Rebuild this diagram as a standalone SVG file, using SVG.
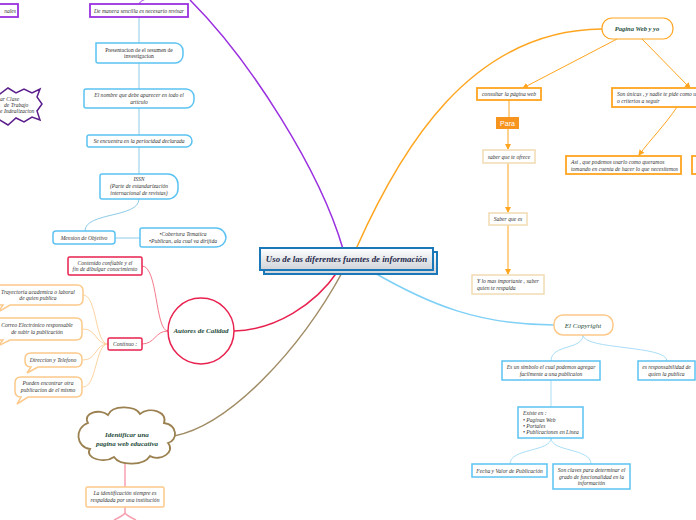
<svg xmlns="http://www.w3.org/2000/svg" width="696" height="520" viewBox="0 0 696 520">
<defs>
<linearGradient id="cg" x1="0" y1="0" x2="0" y2="1"><stop offset="0" stop-color="#ffffff"/><stop offset="1" stop-color="#cfd3d8"/></linearGradient>
<marker id="oa" markerWidth="6" markerHeight="6" refX="5" refY="3" orient="auto" markerUnits="userSpaceOnUse"><path d="M0,0 L6,3 L0,6 Z" fill="#ffa51f"/></marker>
<style>
text{font-family:"Liberation Serif","Times New Roman",serif;font-style:italic;fill:#333;font-size:5.6px}
.c{text-anchor:middle}
.t{font-weight:bold;fill:#1e4d3c;font-size:7px}
.bl{fill:#fff;stroke:#5bc3f2;stroke-width:1.5}
.pu{fill:#fff;stroke:#9b30e0;stroke-width:1.8}
.rd{fill:#fff;stroke:#e8214f;stroke-width:1.5}
.ob{fill:#fff;stroke:#fcc98a;stroke-width:1.5}
.or{fill:#fff;stroke:#ffa51f;stroke-width:1.8}
.tn{fill:#fff;stroke:#f1dcb3;stroke-width:1.5}
.ln{fill:none}
</style>
</defs>
<rect width="696" height="520" fill="#fff"/>
<g id="connectors" class="ln">
<path d="M343,249 C320,170 250,60 190,0" stroke="#9b30e0" stroke-width="1.5" fill="none"/>
<path d="M139,4 C140,1 144,0 148,-2" stroke="#9b30e0" stroke-width="1" fill="none"/>
<path d="M356,249 C400,150 470,30 602,29" stroke="#ffa51f" stroke-width="1.5" fill="none"/>
<path d="M338,271 C315,305 275,330 234,331" stroke="#e8214f" stroke-width="1.5" fill="none"/>
<path d="M343,271 C300,350 230,425 174,436" stroke="#a08c64" stroke-width="1.5" fill="none"/>
<path d="M373,272 C430,305 480,325 554,325" stroke="#7fd0f7" stroke-width="1.5" fill="none"/>
<g stroke="#8ecbe8" stroke-width="1" fill="none">
<path d="M139,17 V43 M139,63 V89 M139,108 V135 M139,147 V174"/>
<path d="M139,199 C139,218 85,212 85,231"/>
<path d="M115,238 H140"/>
</g>
<g stroke="#f47a8a" stroke-width="1" fill="none">
<path d="M168,331 C155,331 158,266 142,266"/>
<path d="M168,331 C155,331 155,344 142,344"/>
</g>
<g stroke="#fdd3a0" stroke-width="1" fill="none">
<path d="M108,344 C95,344 97,295 83,295"/>
<path d="M108,344 C95,344 97,329 83,329"/>
<path d="M108,344 C95,344 97,360 83,360"/>
<path d="M108,344 C95,344 97,387 83,387"/>
</g>
<g stroke="#f7a1b0" stroke-width="1.5" fill="none">
<path d="M125,462 V487"/>
<path d="M125,507 V513 Q123,516 114,520 M125,513 Q127,516 136,520"/>
</g>
<g stroke="#ffa51f" stroke-width="1" fill="none">
<path d="M617,39 L523,88" marker-end="url(#oa)"/>
<path d="M642,39 L690,88" marker-end="url(#oa)"/>
<path d="M509,100 V117"/>
<path d="M508,129 V149" marker-end="url(#oa)"/>
<path d="M508,163 V212" marker-end="url(#oa)"/>
<path d="M508,225 V274" marker-end="url(#oa)"/>
<path d="M677,107 C665,125 650,140 639,155" marker-end="url(#oa)"/>
</g>
<g stroke="#a9def7" stroke-width="1" fill="none">
<path d="M583,335 C583,350 551,344 551,361"/>
<path d="M583,335 C583,350 667,345 667,361"/>
<path d="M551,380 V407"/>
<path d="M551,438 C551,452 510,448 510,464"/>
<path d="M551,438 C551,452 591,448 591,464"/>
</g>
</g>
<g id="central">
<rect x="264" y="252" width="173" height="22" fill="url(#cg)" stroke="#1a78b8" stroke-width="2"/>
<rect x="260" y="248" width="173" height="22" fill="url(#cg)" stroke="#1a78b8" stroke-width="2"/>
<text x="346.5" y="262" class="c" style="font-weight:bold;font-size:8.8px;fill:#1f2a4d">Uso de las diferentes fuentes de información</text>
</g>
<g id="n-nales"><rect x="-60" y="4" width="78" height="13" class="pu"/><text x="16" y="12.5" style="text-anchor:end">nales</text></g>
<g id="n-manera"><rect x="90" y="4" width="98" height="13" class="pu"/><text x="139" y="12.5" class="c">De manera sencilla es necesario revisar</text></g>
<g id="n-presentacion"><path d="M96,43 H175 A8,8 0 0 1 183,51 V55 A8,8 0 0 1 175,63 H98 A2,2 0 0 1 96,61 Z" class="bl"/><text x="139" y="51.5" class="c" style="font-style:normal">Presentacion de el resumen de</text><text x="139" y="58" class="c" style="font-style:normal">investigacion</text></g>
<g id="n-nombre"><path d="M86,89 H186 A8,8 0 0 1 194,97 V100 A8,8 0 0 1 186,108 H86 A2,2 0 0 1 84,106 V91 A2,2 0 0 1 86,89 Z" class="bl"/><text x="139" y="97" class="c">El nombre que debe aparecer  en todo el</text><text x="139" y="104" class="c">articulo</text></g>
<g id="n-periocidad"><path d="M89,135 H186 A6,6 0 0 1 192,141 A6,6 0 0 1 186,147 H89 A2,2 0 0 1 87,145 V137 A2,2 0 0 1 89,135 Z" class="bl"/><text x="139" y="143" class="c">Se encuentra en la periocidad declarada</text></g>
<g id="n-issn"><path d="M102,174 H168 A10,10 0 0 1 178,184 V189 A10,10 0 0 1 168,199 H102 A2,2 0 0 1 100,197 V176 A2,2 0 0 1 102,174 Z" class="bl"/><text x="139" y="181" class="c">ISSN</text><text x="139" y="188" class="c">(Parte de estandarización</text><text x="139" y="195" class="c">internacional de revistas)</text></g>
<g id="n-mension"><rect x="53" y="231" width="62" height="13" rx="3" class="bl"/><text x="84" y="240" class="c">Mension de Objetivo</text></g>
<g id="n-cobertura"><path d="M142,228 H216 A10,10 0 0 1 226,238 A10,10 0 0 1 216,247 H142 A2,2 0 0 1 140,245 V230 A2,2 0 0 1 142,228 Z" class="bl"/><text x="183" y="236" class="c">•Cobertura  Tematica</text><text x="183" y="243" class="c">•Publican, ala cual va dirijida</text></g>
<g id="n-star"><path d="M-30,92 L-20,96 L-10,90 L0,94 L8,88 L16,93 L24,89 L32,93 L40,89 L37,97 L42,104 L37,111 L40,120 L32,117 L24,122 L16,118 L8,125 L0,120 L-10,125 L-20,120 L-30,124 Z" fill="#fff" stroke="#5a1f8c" stroke-width="1.5"/><text x="0" y="100.5">ar Clase</text><text x="4" y="106.5">de Trabajo</text><text x="0" y="112.5">e Indealizacion</text></g>
<g id="n-autores"><circle cx="201" cy="331" r="33" class="rd"/><text x="201" y="333" class="c t">Autores de Calidad</text></g>
<g id="n-contenido"><rect x="68" y="257" width="74" height="18" rx="1.5" class="rd"/><text x="105" y="264.5" class="c">Contenido confiable y el</text><text x="105" y="271" class="c">fin de dibulgar conocimiento</text></g>
<g id="n-continuo"><rect x="108" y="338" width="34" height="12" rx="1.5" class="rd"/><text x="125" y="346" class="c">Continuo :</text></g>
<g id="n-trayectoria"><path d="M-10,285 H77 Q83,285 83,291 V299 Q83,305 77,305 H10 L-2,312 L3,305 H-10 Z" class="ob"/><text x="38" y="293.5" class="c">Trayectoria academica o laboral</text><text x="38" y="300" class="c">de quien publica</text></g>
<g id="n-correo"><path d="M-10,318 H76 Q82,318 82,324 V334 Q82,340 76,340 H10 L-2,346 L3,340 H-10 Z" class="ob"/><text x="37" y="327" class="c">Correo Electrónico responsable</text><text x="37" y="333.5" class="c">de subir la publicación</text></g>
<g id="n-direccion"><path d="M31,353 H76 Q82,353 82,359 V361 Q82,367 76,367 H38 L27,373 L31,367 Q25,367 25,361 V359 Q25,353 31,353 Z" class="ob"/><text x="53" y="362" class="c">Direccion y Telefono</text></g>
<g id="n-pueden"><path d="M21,377 H76 Q82,377 82,383 V391 Q82,397 76,397 H28 L17,404 L21,397 Q15,397 15,391 V383 Q15,377 21,377 Z" class="ob"/><text x="48" y="385" class="c">Pueden encontrar otra</text><text x="48" y="391.5" class="c">publicacion de el mismo</text></g>
<g id="n-identificar"><path d="M88,423 C82,413 100,408 108,415 C112,405 135,405 140,414 C150,406 168,412 164,423 C178,425 178,440 168,443 C176,452 160,462 150,456 C144,466 120,466 114,457 C104,464 84,458 90,449 C76,447 74,428 88,423 Z" fill="#fff" stroke="#9b8050" stroke-width="1.8"/><text x="127" y="437" class="c t">Identificar una</text><text x="127" y="446" class="c t">pagina web educativa</text></g>
<g id="n-identificacion"><rect x="86" y="487" width="78" height="20" rx="1.5" fill="#fff" stroke="#fcc98a" stroke-width="1.5"/><text x="125" y="495" class="c">La identificación siempre es</text><text x="125" y="501.5" class="c">respaldada por una institución</text></g>
<g id="n-paginaweb"><rect x="602" y="18" width="71" height="21" rx="10" fill="#fff" stroke="#ffa51f" stroke-width="1.2"/><text x="637" y="31" class="c t" style="font-size:6.5px">Pagina Web y yo</text></g>
<g id="n-consultar"><rect x="477" y="88" width="64" height="12" class="or"/><text x="509" y="96" class="c">consultar la página web</text></g>
<g id="n-unicas"><rect x="612" y="88" width="100" height="19" class="or"/><text x="617" y="96">Son únicas , y nadie te pide como u</text><text x="617" y="102.5">o criterios a seguir</text></g>
<g id="n-para"><rect x="496" y="117" width="23" height="12" fill="#f7941d"/><text x="507.5" y="125.5" class="c" style="font-family:'Liberation Sans',Arial,sans-serif;font-style:normal;fill:#fff;font-size:7px">Para</text></g>
<g id="n-ofrece"><rect x="483" y="150" width="52" height="13" class="tn"/><text x="509" y="158.5" class="c">saber que te ofrece</text></g>
<g id="n-saberes"><rect x="489" y="213" width="38" height="12" class="tn"/><text x="508" y="221" class="c">Saber que es</text></g>
<g id="n-respalda"><rect x="472" y="275" width="72" height="19" class="tn"/><text x="477" y="283">Y lo mas importante , saber</text><text x="477" y="289.5">quien te respalda</text></g>
<g id="n-asi"><rect x="566" y="156" width="115" height="18" class="or"/><text x="571" y="164">Asi , que podemos usarlo como queramos</text><text x="571" y="170.5">tomando en cuenta de hacer lo que necesitemos</text></g>
<g id="n-right"><rect x="692" y="156" width="20" height="18" class="or"/></g>
<g id="n-copyright"><rect x="554" y="315" width="59" height="20" rx="9" fill="#fff" stroke="#fcc98a" stroke-width="1.5"/><text x="583" y="327.5" class="c" style="fill:#1e4d3c;font-size:7px">El Copyright</text></g>
<g id="n-simbolo"><rect x="502" y="361" width="98" height="19" class="bl"/><text x="551" y="369" class="c">Es un símbolo el cual podemos agregar</text><text x="551" y="375.5" class="c">facilmente a una publicaion</text></g>
<g id="n-responsabilidad"><rect x="638" y="361" width="57" height="19" class="bl"/><text x="666.5" y="369" class="c">es responsabilidad de</text><text x="666.5" y="375.5" class="c">quien la publica</text></g>
<g id="n-existe"><rect x="518" y="407" width="65" height="31" class="bl"/><text x="523" y="415">Existe en :</text><text x="523" y="421.5">• Paginas Web</text><text x="523" y="427.5">• Portales</text><text x="523" y="433.5">• Publicaciones en Linea</text></g>
<g id="n-fecha"><rect x="472" y="464" width="75" height="13" class="bl"/><text x="509.5" y="472.5" class="c">Fecha y Valor de Publicación</text></g>
<g id="n-claves"><rect x="553" y="464" width="77" height="25" class="bl"/><text x="591.5" y="472" class="c">Son claves para determinar el</text><text x="591.5" y="478.5" class="c">grado de funcionalidad en la</text><text x="591.5" y="485" class="c">información</text></g>
</svg>
